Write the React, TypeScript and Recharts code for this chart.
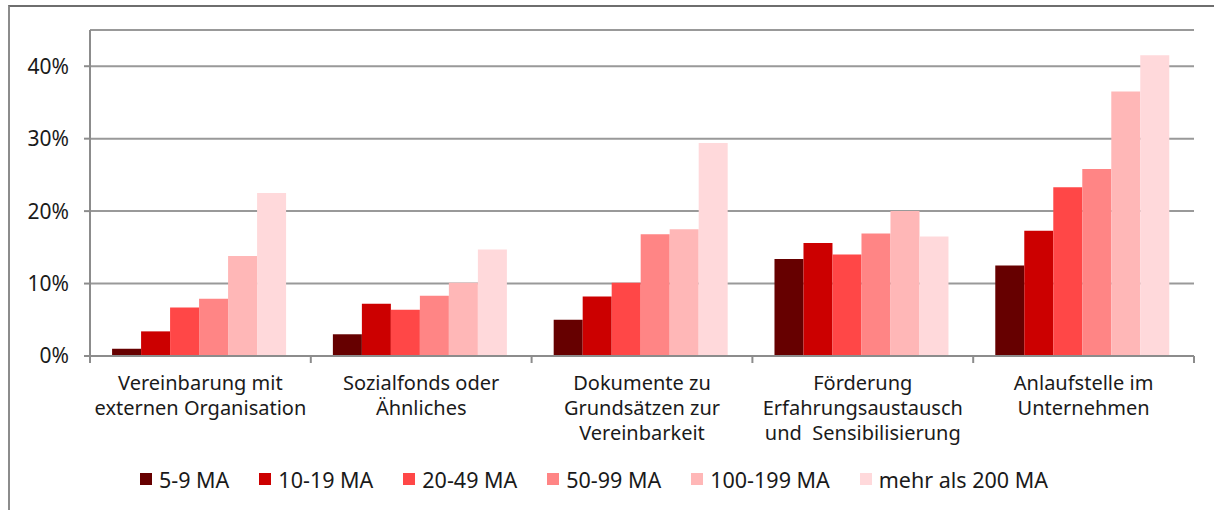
import React from "react";
import { BarChart, Bar, XAxis, YAxis, CartesianGrid, Legend } from "recharts";

const categories = [
  "Vereinbarung mit\nexternen Organisation",
  "Sozialfonds oder\nÄhnliches",
  "Dokumente zu\nGrundsätzen zur\nVereinbarkeit",
  "Förderung\nErfahrungsaustausch\nund  Sensibilisierung",
  "Anlaufstelle im\nUnternehmen",
];

const seriesNames = ["5-9 MA", "10-19 MA", "20-49 MA", "50-99 MA", "100-199 MA", "mehr als 200 MA"];
const seriesColors = ["#660000", "#cc0000", "#ff4747", "#ff8585", "#ffb7b7", "#ffd9db"];

const ma5to9 = [1.0, 3.0, 5.0, 13.4, 12.5];
const ma10to19 = [3.4, 7.2, 8.2, 15.6, 17.3];
const ma20to49 = [6.7, 6.4, 10.1, 14.0, 23.3];
const ma50to99 = [7.9, 8.3, 16.8, 16.9, 25.8];
const ma100to199 = [13.8, 10.1, 17.5, 20.0, 36.5];
const maOver200 = [22.5, 14.7, 29.4, 16.5, 41.5];

const yTicks = [0, 10, 20, 30, 40];

const seriesValues = [ma5to9, ma10to19, ma20to49, ma50to99, ma100to199, maOver200];

const data = categories.map((name, i) => {
  const row: Record<string, any> = { name };
  seriesNames.forEach((s, j) => {
    row[s] = seriesValues[j][i];
  });
  return row;
});

const fontFamily = "'Noto Sans', sans-serif";
const textColor = "#1a1a1a";
const axisColor = "#8c8c8c";

function CategoryTick(props: any) {
  const { x, y, payload, index, width } = props;
  const step = (width || 1104) / categories.length;
  const lines = String(payload.value).split("\n");
  const isLast = index === categories.length - 1;
  return (
    <g>
      <line x1={x - step / 2} x2={x - step / 2} y1={y} y2={y + 7} stroke={axisColor} strokeWidth={2} />
      {isLast && (
        <line x1={x + step / 2} x2={x + step / 2} y1={y} y2={y + 7} stroke={axisColor} strokeWidth={2} />
      )}
      {lines.map((l, i) => (
        <text
          key={i}
          x={x}
          y={y + 34 + i * 25}
          textAnchor="middle"
          fill={textColor}
          style={{ fontFamily, fontSize: 20, whiteSpace: "pre" }}
        >
          {l}
        </text>
      ))}
    </g>
  );
}

function LegendContent() {
  return (
    <div
      style={{
        display: "flex",
        alignItems: "center",
        height: 56,
        boxSizing: "border-box",
        paddingLeft: 140,
        paddingBottom: 6,
        fontFamily,
        fontSize: 21.5,
        color: textColor,
      }}
    >
      {seriesNames.map((s, i) => (
        <div key={s} style={{ display: "flex", alignItems: "center", marginRight: 30 }}>
          <span
            style={{ width: 12, height: 12, background: seriesColors[i], marginRight: 7, display: "inline-block" }}
          />
          <span style={{ whiteSpace: "nowrap" }}>{s}</span>
        </div>
      ))}
    </div>
  );
}

export default function App() {
  return (
    <div style={{ position: "absolute", left: 0, top: 0, width: 1214, height: 510, background: "#fff" }}>
      <div
        style={{
          position: "absolute",
          left: 8,
          top: 5,
          width: 1206,
          height: 505,
          borderTop: "2px solid #6e6e6e",
          borderLeft: "2px solid #8c8c8c",
          boxSizing: "border-box",
        }}
      />
      <div style={{ position: "absolute", left: 0, top: 0 }}>
        <BarChart
          width={1214}
          height={510}
          data={data}
          margin={{ top: 30, right: 20, left: 30, bottom: 0 }}
          barCategoryGap="10%"
          barGap={0}
        >
          <CartesianGrid vertical={false} stroke="#999999" strokeWidth={2} />
          <YAxis
            domain={[0, 45]}
            ticks={yTicks}
            width={60}
            tickFormatter={(v: number) => `${v}%`}
            axisLine={{ stroke: axisColor, strokeWidth: 2 }}
            tickLine={{ stroke: axisColor, strokeWidth: 2 }}
            tickSize={6}
            tickMargin={15}
            tick={{ fill: textColor, fontSize: 21, fontFamily }}
            allowDataOverflow
          />
          <XAxis
            dataKey="name"
            height={98}
            interval={0}
            tickSize={0}
            tickMargin={0}
            axisLine={{ stroke: axisColor, strokeWidth: 2 }}
            tickLine={false}
            tick={<CategoryTick />}
          />
          <Legend
            verticalAlign="bottom"
            content={<LegendContent />}
            wrapperStyle={{ left: 0, width: 1214, bottom: 0, height: 56 }}
          />
          {seriesNames.map((s, i) => (
            <Bar key={s} dataKey={s} fill={seriesColors[i]} isAnimationActive={false} />
          ))}
        </BarChart>
      </div>
    </div>
  );
}
